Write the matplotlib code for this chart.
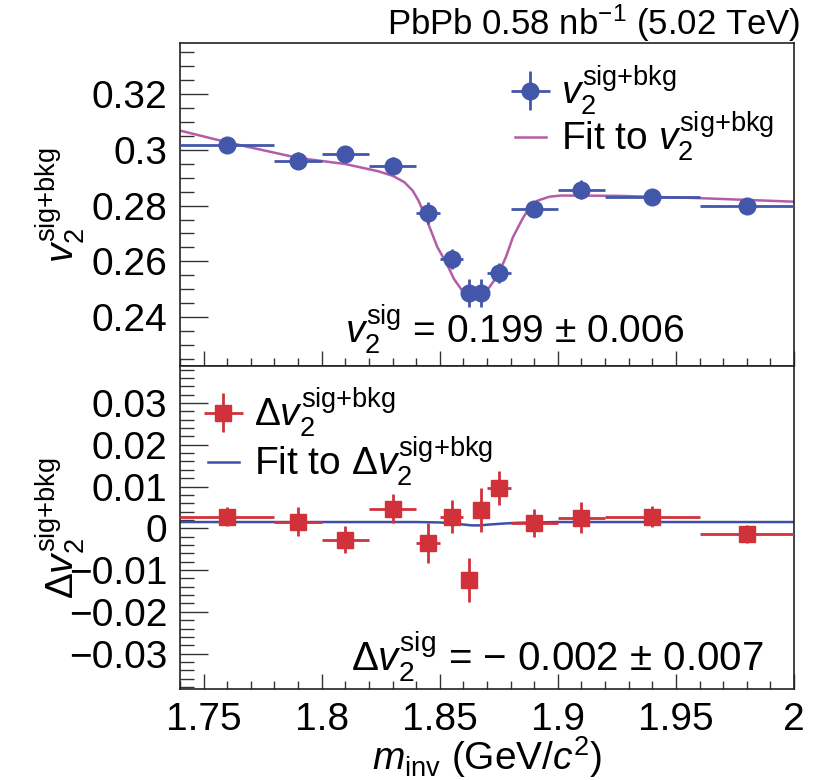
import matplotlib
matplotlib.use('Agg')
import matplotlib.pyplot as plt
from matplotlib.ticker import MultipleLocator
import numpy as np

plt.rcParams['font.family'] = ['Liberation Sans', 'DejaVu Sans']
plt.rcParams['mathtext.fontset'] = 'custom'
plt.rcParams['mathtext.rm'] = 'Liberation Sans'
plt.rcParams['mathtext.it'] = 'Liberation Sans:italic'
plt.rcParams['mathtext.bf'] = 'Liberation Sans:bold'
plt.rcParams['mathtext.sf'] = 'Liberation Sans'

# ---------------- data ----------------
bin_lo = [1.74, 1.78, 1.80, 1.82, 1.84, 1.85, 1.86, 1.865, 1.87, 1.88, 1.90, 1.92, 1.96]
bin_hi = [1.78, 1.80, 1.82, 1.84, 1.85, 1.86, 1.865, 1.87, 1.88, 1.90, 1.92, 1.96, 2.00]
v2 = [0.3017, 0.2961, 0.2985, 0.2943, 0.2774, 0.2609, 0.2487, 0.2488, 0.2558, 0.2788, 0.2857, 0.2832, 0.2800]
v2_err = [0.0027, 0.0030, 0.0030, 0.0030, 0.0040, 0.0036, 0.0049, 0.0050, 0.0036, 0.0025, 0.0035, 0.0022, 0.0022]
dv2 = [0.0028, 0.0016, -0.0027, 0.0047, -0.0035, 0.0028, -0.0124, 0.0044, 0.0096, 0.0012, 0.0025, 0.0028, -0.0014]
dv2_err = [0.0022, 0.0034, 0.0033, 0.0035, 0.0047, 0.0040, 0.0052, 0.0053, 0.0041, 0.0034, 0.0037, 0.0025, 0.0022]

fit_m = [1.740, 1.760, 1.790, 1.810, 1.824, 1.830, 1.835, 1.8385, 1.841, 1.8435, 1.846, 1.849,
         1.853, 1.856, 1.8595, 1.863, 1.8655, 1.868, 1.871, 1.8745, 1.878, 1.881, 1.885,
         1.888, 1.8915, 1.8965, 1.9015, 1.925, 1.959, 2.000]
fit_v2 = [0.3069, 0.3027, 0.2971, 0.2949, 0.2923, 0.2907, 0.2884, 0.2854, 0.2818, 0.2770, 0.2716, 0.2651,
          0.2591, 0.2537, 0.2495, 0.2478, 0.2474, 0.2481, 0.2507, 0.2549, 0.2615, 0.2687, 0.2752,
          0.2794, 0.2818, 0.2832, 0.2836, 0.2835, 0.2827, 0.2814]

dfit_m = [1.740, 1.800, 1.840, 1.850, 1.855, 1.860, 1.8635, 1.867, 1.871, 1.876, 1.882, 1.890, 1.900, 2.000]
dfit_v2 = [0.0015, 0.0015, 0.0015, 0.0014, 0.0012, 0.0009, 0.0007, 0.0007, 0.0009, 0.0011, 0.0013, 0.0014, 0.0015, 0.0015]

x_ticks = [1.75, 1.80, 1.85, 1.90, 1.95, 2.00]
x_ticklabels = ['1.75', '1.8', '1.85', '1.9', '1.95', '2']
top_yticks = [0.24, 0.26, 0.28, 0.30, 0.32]
top_yticklabels = ['0.24', '0.26', '0.28', '0.3', '0.32']
bot_yticks = [-0.03, -0.02, -0.01, 0.0, 0.01, 0.02, 0.03]
bot_yticklabels = ['\u22120.03', '\u22120.02', '\u22120.01', '0', '0.01', '0.02', '0.03']

# ---------------- styling ----------------
blue = '#4357AA'
red = '#D1323A'
magenta = '#B45CA8'
fitblue = '#3F4FA6'
FS = 28
SB = r'\mathrm{sig{+}bkg}'

lo = np.array(bin_lo); hi = np.array(bin_hi)
xc = (lo + hi) / 2
xe = (hi - lo) / 2

fig = plt.figure(figsize=(8.21, 7.80), dpi=100)
ax1 = fig.add_axes([0.2192, 0.5305, 0.7479, 0.4140])
ax2 = fig.add_axes([0.2192, 0.1165, 0.7479, 0.4140])

for ax in (ax1, ax2):
    ax.set_xlim(1.74, 2.0)
    ax.xaxis.set_major_locator(MultipleLocator(0.05))
    ax.xaxis.set_minor_locator(MultipleLocator(0.01))
    ax.tick_params(axis='both', which='both', direction='in', top=False, right=False,
                   labelsize=FS, width=1.0, color='#333333')
    ax.tick_params(axis='y', which='major', length=20)
    ax.tick_params(axis='y', which='minor', length=10)
    ax.tick_params(axis='x', which='major', length=11, pad=9)
    ax.tick_params(axis='x', which='minor', length=5.5)
    for s in ax.spines.values():
        s.set_linewidth(1.2)
        s.set_color('#222222')

# top panel
ax1.set_ylim(0.2224, 0.3382)
ax1.set_yticks(top_yticks)
ax1.set_yticklabels(top_yticklabels)
ax1.yaxis.set_minor_locator(MultipleLocator(0.005))
ax1.tick_params(axis='x', labelbottom=False)
ax1.tick_params(axis='y', pad=9)

ax1.plot(fit_m, fit_v2, color=magenta, lw=1.8, zorder=2,
         label=r'Fit to $v_{2}^{' + SB + '}$')
ax1.errorbar(xc, v2, xerr=xe, yerr=v2_err, fmt='o', color=blue, ms=12,
             elinewidth=2.0, capsize=0, zorder=3, label=r'$v_{2}^{' + SB + '}$')
h1, l1 = ax1.get_legend_handles_labels()
ax1.legend([h1[1], h1[0]], [l1[1], l1[0]], loc='upper left',
           bbox_to_anchor=(0.545, 0.937), frameon=False, fontsize=FS,
           handlelength=0.8, handletextpad=0.4, labelspacing=-0.2,
           borderpad=0, borderaxespad=0)

ax1.text(0.545, 0.072, r'$v_{2}^{\mathrm{sig}}$ = 0.199 $\pm$ 0.006', transform=ax1.transAxes,
         ha='center', va='baseline', fontsize=FS)
ax1.set_ylabel(r'$v_{2}^{' + SB + '}$', fontsize=FS)
ax1.yaxis.set_label_coords(-0.152, 0.5)

# bottom panel
ax2.set_ylim(-0.0385, 0.0388)
ax2.set_yticks(bot_yticks)
ax2.set_yticklabels(bot_yticklabels)
ax2.yaxis.set_minor_locator(MultipleLocator(0.002))
ax2.set_xticks(x_ticks)
ax2.set_xticklabels(x_ticklabels)
ax2.tick_params(axis='y', pad=9)

ax2.plot(dfit_m, dfit_v2, color=fitblue, lw=1.8, zorder=2,
         label=r'Fit to $\Delta v_{2}^{' + SB + '}$')
ax2.errorbar(xc, dv2, xerr=xe, yerr=dv2_err, fmt='s', color=red, ms=11,
             elinewidth=2.0, capsize=0, zorder=3, label=r'$\Delta v_{2}^{' + SB + '}$')
h2, l2 = ax2.get_legend_handles_labels()
ax2.legend([h2[1], h2[0]], [l2[1], l2[0]], loc='upper left',
           bbox_to_anchor=(0.045, 0.94), frameon=False, fontsize=FS,
           handlelength=0.8, handletextpad=0.4, labelspacing=-0.12,
           borderpad=0, borderaxespad=0)

ax2.text(0.615, 0.056, r'$\Delta v_{2}^{\mathrm{sig}}$ = $-$ 0.002 $\pm$ 0.007', transform=ax2.transAxes,
         ha='center', va='baseline', fontsize=29)
ax2.set_ylabel(r'$\Delta v_{2}^{' + SB + '}$', fontsize=FS)
ax2.yaxis.set_label_coords(-0.152, 0.5)
ax2.set_xlabel(r'$m_{\mathrm{inv}}$ (GeV/$c^{2}$)', fontsize=FS)
ax2.xaxis.set_label_coords(0.5, -0.14)
ax2.xaxis.label.set_va('top')

fig.text(0.975, 0.955, r'PbPb 0.58 nb$^{\mathrm{-1}}$ (5.02 TeV)', ha='right', va='baseline', fontsize=25)

fig.savefig('out.png', dpi=100)
